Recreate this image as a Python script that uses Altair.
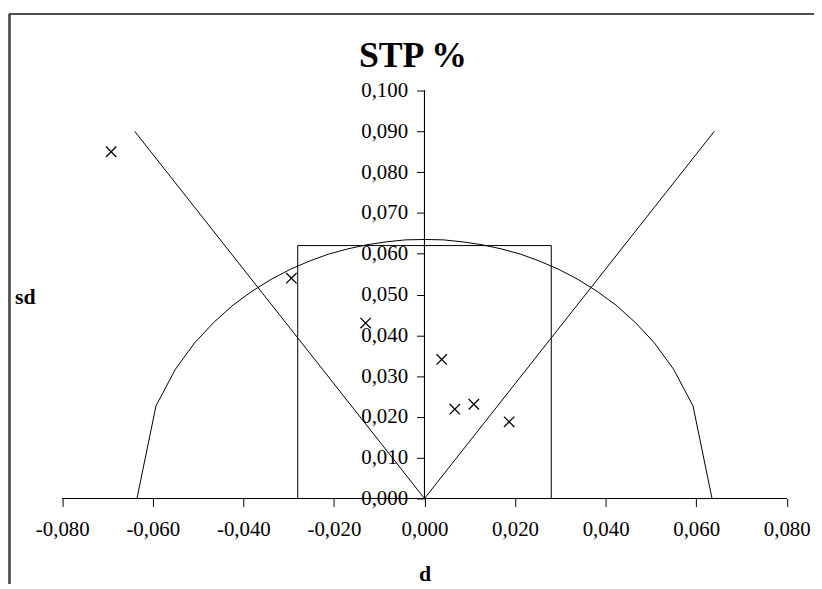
import altair as alt
import pandas as pd

# ---- data ----
pt_x = [-0.0692, -0.0294, -0.0130, 0.0038, 0.0067, 0.0109, 0.0187]
pt_y = [0.0850, 0.0540, 0.0430, 0.0341, 0.0219, 0.0231, 0.0188]

circ_x = [-0.0635, -0.0593, -0.0550, -0.0508, -0.0466, -0.0423, -0.0381, -0.0339,
          -0.0296, -0.0254, -0.0212, -0.0169, -0.0127, -0.0085, -0.0042, 0.0,
          0.0042, 0.0085, 0.0127, 0.0169, 0.0212, 0.0254, 0.0296, 0.0339,
          0.0381, 0.0423, 0.0466, 0.0508, 0.0550, 0.0593, 0.0635]
circ_y = [0.0, 0.0227, 0.0317, 0.0381, 0.0431, 0.0474, 0.0508, 0.0537,
          0.0562, 0.0582, 0.0599, 0.0612, 0.0622, 0.0629, 0.0634, 0.0635,
          0.0634, 0.0629, 0.0622, 0.0612, 0.0599, 0.0582, 0.0562, 0.0537,
          0.0508, 0.0474, 0.0431, 0.0381, 0.0317, 0.0227, 0.0]

v_x = [-0.064, 0.0, 0.064]
v_y = [0.090, 0.0, 0.090]

box_x = [-0.028, -0.028, 0.028, 0.028]
box_y = [0.0, 0.062, 0.062, 0.0]

x_ticks = [-0.08, -0.06, -0.04, -0.02, 0.0, 0.02, 0.04, 0.06, 0.08]
y_ticks = [0.0, 0.01, 0.02, 0.03, 0.04, 0.05, 0.06, 0.07, 0.08, 0.09, 0.1]

# ---- layout ----
W, H = 812, 508
PAD_TOP = 70
X_DOMAIN = [-0.09198, 0.08602]
Y_DOMAIN = [-0.020925, 0.10268]
SERIF = "Liberation Serif"

label_expr = "(datum.value < -1e-9 ? '-' : '') + replace(format(abs(datum.value), '.3f'), '.', ',')"

xs = alt.Scale(domain=X_DOMAIN, nice=False, zero=False)
ys = alt.Scale(domain=Y_DOMAIN, nice=False, zero=False)

x_axis = alt.Axis(values=x_ticks, labelExpr=label_expr, tickSize=8, tickColor="black",
                  tickWidth=1, domain=False, grid=False, labelFont=SERIF, labelFontSize=21,
                  labelColor="black", labelPadding=12, labelFlush=False, labelOverlap=False,
                  title="d", titleFont=SERIF, titleFontSize=22, titleFontWeight="bold",
                  titleColor="black", titleX=419.6, titleY=76, titleAlign="center",
                  titleBaseline="middle", offset=-86)
y_axis = alt.Axis(values=y_ticks, labelExpr=label_expr, tickSize=8, tickColor="black",
                  tickWidth=1, domain=False, grid=False, labelFont=SERIF, labelFontSize=21,
                  labelColor="black", labelPadding=9, labelFlush=False, labelOverlap=False,
                  title="sd", titleFont=SERIF, titleFontSize=22, titleFontWeight="bold",
                  titleColor="black", titleAngle=0, titleX=-402.6, titleY=219,
                  titleAlign="center", titleBaseline="middle", offset=-419.6)

X = alt.X("x:Q", scale=xs, axis=x_axis)
Y = alt.Y("y:Q", scale=ys, axis=y_axis)

pts = pd.DataFrame({"x": pt_x, "y": pt_y})
circ = pd.DataFrame({"x": circ_x, "y": circ_y, "i": list(range(len(circ_x)))})
vdf = pd.DataFrame({"x": v_x, "y": v_y, "i": list(range(len(v_x)))})
box = pd.DataFrame({"x": box_x, "y": box_y, "i": list(range(len(box_x)))})

line_style = dict(color="black", strokeWidth=1)

circ_layer = alt.Chart(circ).mark_line(**line_style).encode(x=X, y=Y, order="i:Q")
v_layer = alt.Chart(vdf).mark_line(**line_style).encode(x=X, y=Y, order="i:Q")
box_layer = alt.Chart(box).mark_line(**line_style).encode(x=X, y=Y, order="i:Q")

xline = alt.Chart(pts).mark_rule(color="black", strokeWidth=1).encode(
    x=alt.datum(x_ticks[0]), x2=alt.datum(x_ticks[-1]), y=alt.datum(0.0))
yline = alt.Chart(pts).mark_rule(color="black", strokeWidth=1).encode(
    x=alt.datum(0.0), y=alt.datum(y_ticks[0]), y2=alt.datum(y_ticks[-1]))

pt_layer = alt.Chart(pts).mark_point(
    shape="M-1,-1L1,1M-1,1L1,-1", filled=False, stroke="black", strokeWidth=1.3,
    size=110, opacity=1).encode(x=X, y=Y)

# chart-area border (top and left edges)
border_top = alt.Chart(pts).mark_rule(color="#505050", strokeWidth=1.5).encode(
    x=alt.value(1), x2=alt.value(W), y=alt.value(-66))
border_left = alt.Chart(pts).mark_rule(color="#505050", strokeWidth=1.5).encode(
    x=alt.value(1.5), y=alt.value(-66), y2=alt.value(H))

chart = alt.layer(
    border_top, border_left, xline, yline, box_layer, v_layer, circ_layer, pt_layer
).properties(
    width=W, height=H,
    padding={"left": 0, "top": PAD_TOP, "right": 0, "bottom": 0},
    autosize="none",
    title=alt.TitleParams(text="STP %", font=SERIF, fontSize=36, fontWeight="bold",
                          color="black", anchor="middle", frame="group", offset=-90,
                          baseline="alphabetic", dx=2),
    background="white",
).configure_view(stroke=None)

chart.save("out.html", embed_options={"renderer": "svg", "actions": False})
